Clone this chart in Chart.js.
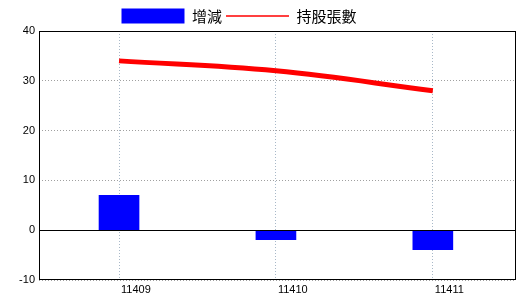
<!DOCTYPE html>
<html>
<head>
<meta charset="utf-8">
<script src="https://cdn.jsdelivr.net/npm/chart.js@4/dist/chart.umd.min.js"></script>
<style>
  html,body{margin:0;padding:0;background:#fff;}
  #wrap{width:520px;height:300px;}
</style>
</head>
<body>
<div id="wrap"><canvas id="chart" width="520" height="300"></canvas></div>
<script>
// === данные ===
const categories = ['11409', '11410', '11411'];
const changeVals = [7, -1.9, -3.9];     // 增減
const holdVals   = [34, 32, 28];        // 持股張數
const yTicks     = [-10, 0, 10, 20, 30, 40];

const tickFont = {family: "'Liberation Sans', Arial, sans-serif", size: 11};
const cjkFont  = {family: "'Noto Sans CJK TC', 'Noto Sans CJK SC', sans-serif", size: 15};

// === рамка и нулевая линия ===
const framePlugin = {
  id: 'frame',
  afterLayout(chart){
    // сдвиг легенды как в оригинале
    const lg = chart.legend;
    if(lg){ lg.left -= 19; lg.right -= 19; lg.top += 2.5; lg.bottom += 2.5; }
  },
  afterDatasetsDraw(chart){
    const {ctx, chartArea: a, scales: {y}} = chart;
    ctx.save();
    ctx.strokeStyle = '#000';
    ctx.lineWidth = 1;
    const y0 = Math.round(y.getPixelForValue(0)) + 0.5;
    ctx.beginPath();
    ctx.moveTo(a.left, y0);
    ctx.lineTo(a.right, y0);
    ctx.stroke();
    ctx.strokeRect(Math.round(a.left) + 0.5, Math.round(a.top) + 0.5,
                   Math.round(a.right - a.left) - 1, Math.round(a.bottom - a.top) - 1);
    ctx.restore();
  }
};

new Chart(document.getElementById('chart'), {
  data: {
    datasets: [
      {
        type: 'bar',
        label: '增減',
        data: changeVals.map((v, i) => ({x: i, y: v})),
        backgroundColor: '#0000ff',
        borderWidth: 0,
        barThickness: 40
      },
      {
        type: 'line',
        label: '持股張數',
        data: holdVals.map((v, i) => ({x: i, y: v})),
        borderColor: '#ff0000',
        backgroundColor: '#ff0000',
        borderWidth: 5,
        pointRadius: 0,
        tension: 0.4,
        fill: false
      }
    ]
  },
  options: {
    responsive: false,
    animation: false,
    layout: {padding: {top: 2, right: 4, left: 0, bottom: 0}},
    plugins: {
      tooltip: {enabled: false},
      legend: {
        position: 'top',
        labels: {
          color: '#000',
          font: cjkFont,
          usePointStyle: true,
          pointStyleWidth: 63,
          boxHeight: 16,
          padding: 4,
          generateLabels(chart){
            const items = Chart.defaults.plugins.legend.labels.generateLabels(chart);
            items.forEach(it => {
              if(it.datasetIndex === 0){ it.pointStyle = 'rect'; it.lineWidth = 0; it.strokeStyle = '#0000ff'; }
              else { it.pointStyle = 'line'; it.lineWidth = 1.5; it.strokeStyle = '#ff0000'; }
            });
            return items;
          }
        }
      }
    },
    scales: {
      x: {
        type: 'linear',
        offset: false,
        min: -0.51,
        max: 2.53,
        afterBuildTicks(scale){ scale.ticks = categories.map((c, i) => ({value: i})); },
        afterFit(scale){ scale.height = 20; },
        ticks: {
          color: '#000',
          font: tickFont,
          padding: 3,
          align: 'start',
          labelOffset: 2,
          autoSkip: false,
          maxRotation: 0,
          callback: v => categories[v]
        },
        grid: {color: '#a8b8c8', lineWidth: 1, drawTicks: false, offset: false},
        border: {display: false, dash: [1, 2]}
      },
      y: {
        min: yTicks[0],
        max: yTicks[yTicks.length - 1],
        afterBuildTicks(scale){ scale.ticks = yTicks.map(v => ({value: v})); },
        afterFit(scale){ scale.width = 39; },
        ticks: {color: '#000', font: tickFont, padding: 4},
        grid: {color: '#a0a0a0', lineWidth: 1, drawTicks: false},
        border: {display: false, dash: [1, 2]}
      }
    }
  },
  plugins: [framePlugin]
});
</script>
</body>
</html>
